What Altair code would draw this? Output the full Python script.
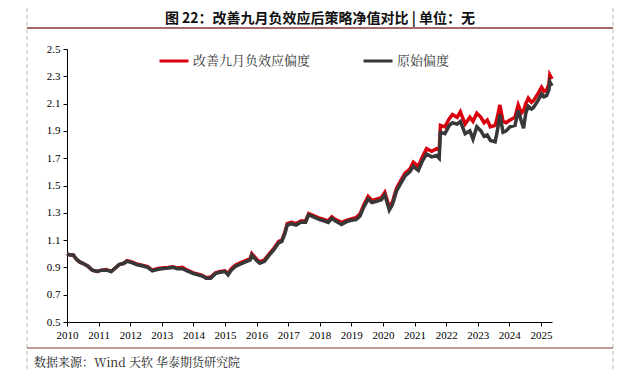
import altair as alt
import pandas as pd

# fractional year of each reading
t = [2010.00, 2010.10, 2010.20, 2010.30, 2010.40, 2010.50, 2010.65, 2010.80, 2010.95,
     2011.10, 2011.25, 2011.40, 2011.50, 2011.65, 2011.80, 2011.90,
     2012.05, 2012.20, 2012.40, 2012.55, 2012.70, 2012.85,
     2013.00, 2013.20, 2013.35, 2013.50, 2013.65, 2013.80,
     2014.00, 2014.15, 2014.30, 2014.40, 2014.55, 2014.70, 2014.85,
     2015.00, 2015.10, 2015.20, 2015.35, 2015.50, 2015.65, 2015.80, 2015.85,
     2016.00, 2016.10, 2016.25, 2016.40, 2016.55, 2016.70, 2016.80, 2016.90, 2016.97,
     2017.10, 2017.25, 2017.40, 2017.55, 2017.65, 2017.80,
     2018.00, 2018.15, 2018.27, 2018.38, 2018.50, 2018.69, 2018.85,
     2019.00, 2019.15, 2019.27, 2019.40, 2019.53, 2019.65, 2019.80, 2019.95,
     2020.06, 2020.20, 2020.30, 2020.43, 2020.55, 2020.70, 2020.85, 2020.96,
     2021.12, 2021.25, 2021.38, 2021.54, 2021.70, 2021.78, 2021.82, 2021.96,
     2022.10, 2022.20, 2022.35, 2022.45, 2022.60, 2022.75, 2022.85, 2022.97,
     2023.10, 2023.20, 2023.30, 2023.40, 2023.55, 2023.62, 2023.70, 2023.80, 2023.90,
     2024.02, 2024.18, 2024.28, 2024.38, 2024.45, 2024.52, 2024.60, 2024.70, 2024.76, 2024.90,
     2025.02, 2025.10, 2025.18, 2025.25, 2025.28, 2025.35]

improved = [1.00, 0.99, 0.99, 0.96, 0.94, 0.93, 0.91, 0.88, 0.87,
            0.88, 0.885, 0.87, 0.89, 0.92, 0.93, 0.95,
            0.94, 0.925, 0.915, 0.905, 0.88, 0.89,
            0.895, 0.90, 0.905, 0.895, 0.90, 0.88,
            0.86, 0.85, 0.84, 0.825, 0.83, 0.86, 0.87,
            0.875, 0.855, 0.89, 0.92, 0.935, 0.95, 0.965, 1.00,
            0.96, 0.94, 0.955, 1.00, 1.04, 1.09, 1.10, 1.16, 1.22,
            1.23, 1.22, 1.24, 1.24, 1.295, 1.28,
            1.26, 1.25, 1.24, 1.27, 1.25, 1.23, 1.245,
            1.255, 1.265, 1.29, 1.36, 1.42, 1.39, 1.40, 1.41,
            1.45, 1.34, 1.38, 1.48, 1.53, 1.59, 1.62, 1.67,
            1.64, 1.71, 1.77, 1.75, 1.77, 1.76, 1.94, 1.93,
            1.99, 2.02, 2.00, 2.04, 1.95, 2.00, 1.97, 2.03,
            2.00, 1.96, 1.98, 1.93, 1.94, 2.00, 2.09, 1.97, 1.96,
            1.98, 2.00, 2.09, 2.03, 2.05, 2.10, 2.14, 2.11, 2.12, 2.17,
            2.22, 2.19, 2.20, 2.24, 2.31, 2.28]

original = [1.00, 0.99, 0.99, 0.96, 0.94, 0.93, 0.91, 0.88, 0.87,
            0.88, 0.88, 0.87, 0.89, 0.92, 0.93, 0.945,
            0.935, 0.92, 0.91, 0.90, 0.875, 0.885,
            0.89, 0.895, 0.90, 0.89, 0.89, 0.875,
            0.855, 0.845, 0.835, 0.82, 0.82, 0.855, 0.865,
            0.87, 0.845, 0.88, 0.91, 0.925, 0.94, 0.955, 0.99,
            0.95, 0.93, 0.945, 0.99, 1.03, 1.08, 1.09, 1.15, 1.21,
            1.22, 1.21, 1.23, 1.23, 1.285, 1.27,
            1.25, 1.24, 1.23, 1.26, 1.24, 1.215, 1.235,
            1.245, 1.25, 1.275, 1.345, 1.40, 1.375, 1.385, 1.395,
            1.43, 1.32, 1.36, 1.46, 1.51, 1.57, 1.60, 1.64,
            1.61, 1.68, 1.73, 1.71, 1.72, 1.70, 1.89, 1.88,
            1.94, 1.96, 1.95, 1.97, 1.88, 1.90, 1.84, 1.93,
            1.90, 1.86, 1.87, 1.83, 1.82, 1.90, 2.02, 1.89, 1.90,
            1.93, 1.94, 2.05, 1.97, 1.92, 2.03, 2.08, 2.06, 2.07, 2.12,
            2.17, 2.15, 2.16, 2.20, 2.26, 2.23]

series_names = ["改善九月负效应偏度", "原始偏度"]
series_colors = ["#d9000d", "#383838"]
y_ticks = [0.5, 0.7, 0.9, 1.1, 1.3, 1.5, 1.7, 1.9, 2.1, 2.3, 2.5]
x_ticks = list(range(2010, 2026))

title_text = "图  22：改善九月负效应后策略净值对比 | 单位：无"
source_text = "数据来源：Wind  天软  华泰期货研究院"

df = pd.concat([
    pd.DataFrame({"t": t, "v": improved, "s": series_names[0]}),
    pd.DataFrame({"t": t, "v": original, "s": series_names[1]}),
])

CJK = "Noto Serif CJK SC, Noto Sans CJK SC"
NUM = "Liberation Serif"

x_enc = alt.X("t:Q",
              scale=alt.Scale(domain=[2010, 2025.35], nice=False, zero=False),
              axis=alt.Axis(values=x_ticks, format="d", title=None, grid=False,
                            tickSize=4, labelFont=NUM, labelFontSize=11,
                            labelColor="#000", domainColor="#000", tickColor="#000",
                            labelPadding=3, labelOverlap=False, labelFlush=False))
y_enc = alt.Y("v:Q",
              scale=alt.Scale(domain=[0.5, 2.5], nice=False, zero=False),
              axis=alt.Axis(values=y_ticks, format=".1f", title=None, grid=False,
                            tickSize=4, labelFont=NUM, labelFontSize=11,
                            labelColor="#000", domainColor="#000", tickColor="#000",
                            labelPadding=3))
color_enc = alt.Color("s:N",
                      scale=alt.Scale(domain=series_names, range=series_colors),
                      legend=alt.Legend(title=None, orient="none", legendX=91, legendY=-4,
                                        direction="horizontal", columns=2,
                                        symbolType="stroke", symbolSize=841,
                                        symbolStrokeWidth=3, labelFont=CJK,
                                        labelFontSize=13, labelColor="#333",
                                        columnPadding=46, labelOffset=3))

base = alt.Chart(df)
red_line = base.transform_filter(alt.datum.s == series_names[0]).mark_line(
    strokeWidth=3.5).encode(x=x_enc, y=y_enc, color=color_enc)
gray_line = base.transform_filter(alt.datum.s == series_names[1]).mark_line(
    strokeWidth=3.5).encode(x=x_enc, y=y_enc, color=color_enc)

one = pd.DataFrame({"k": [0]})
deco = alt.Chart(one)

border_l = deco.mark_rule(color="#bbbbbb", strokeDash=[4, 3], strokeWidth=1).encode(
    x=alt.value(-40), y=alt.value(-41), y2=alt.value(323))
border_r = deco.mark_rule(color="#bbbbbb", strokeDash=[4, 3], strokeWidth=1).encode(
    x=alt.value(546), y=alt.value(-41), y2=alt.value(323))
top_line = deco.mark_rule(color="#a36a6a", strokeWidth=2).encode(
    x=alt.value(-40), x2=alt.value(546), y=alt.value(-21))
bot_line = deco.mark_rule(color="#b87c7c", strokeWidth=1.5).encode(
    x=alt.value(-40), x2=alt.value(546), y=alt.value(299))
title = deco.mark_text(font="Noto Sans CJK SC", fontSize=14, fontWeight="bold",
                       color="#111", align="center", baseline="middle").encode(
    x=alt.value(253), y=alt.value(-30), text=alt.value(title_text))
source = deco.mark_text(font=CJK, fontSize=12, color="#222", align="left",
                        baseline="middle").encode(
    x=alt.value(-33), y=alt.value(314), text=alt.value(source_text))

chart = alt.layer(red_line, gray_line, border_l, border_r, top_line, bot_line,
                  title, source).properties(
    width=485, height=273, autosize="none",
    padding={"left": 59, "top": 41, "right": 75, "bottom": 50},
).configure_view(stroke=None)

chart.save("out.html", embed_options={"renderer": "svg", "actions": False})
